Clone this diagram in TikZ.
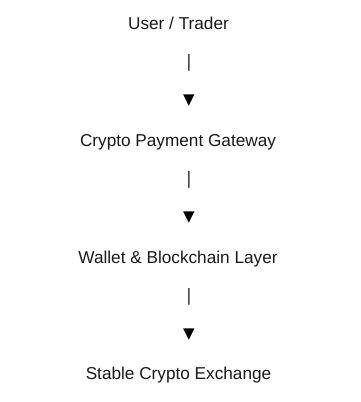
\documentclass[tikz,border=0pt]{standalone}
\usepackage{fontspec}
\setmainfont{Liberation Sans}
\newfontfamily\symfont{DejaVu Sans}
\usetikzlibrary{positioning}
\tikzset{
  layer/.style   = {anchor=base, inner sep=0pt, text=black!90,
                    font=\fontsize{17.2}{20}\selectfont},
  stem/.style    = {inner sep=0pt, text=black!80,
                    font=\fontsize{18}{20}\selectfont},
  tipmark/.style = {inner sep=0pt, text=black,
                    font=\symfont\fontsize{15}{18}\selectfont},
}

\begin{document}
\begin{tikzpicture}[x=1pt,y=-1pt]
\useasboundingbox (0,0) rectangle (361,402);
\node[layer] (user) at (178.5,29) {User / Trader};
\node[stem] (bar1) at (189,62.5) {|};
\node[tipmark] (tip1) at (189,101) {▼};
\node[layer] (gate) at (178,146) {Crypto Payment Gateway};
\node[stem] (bar2) at (189,179.5) {|};
\node[tipmark] (tip2) at (189,218) {▼};
\node[layer] (wallet) at (178,263) {Wallet \& Blockchain Layer};
\node[stem] (bar3) at (189,296.5) {|};
\node[tipmark] (tip3) at (189,335) {▼};
\node[layer] (exch) at (178.5,379) {Stable Crypto Exchange};
\end{tikzpicture}
\end{document}
